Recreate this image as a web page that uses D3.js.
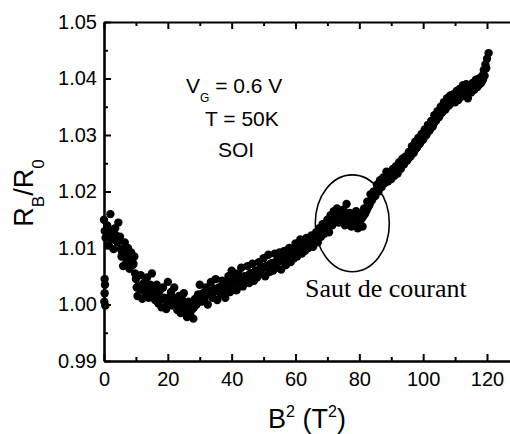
<!DOCTYPE html>
<html>
<head>
<meta charset="utf-8">
<script src="https://cdn.jsdelivr.net/npm/d3@7"></script>
<style>
  html, body { margin: 0; padding: 0; background: #fff; }
  svg { display: block; }
</style>
</head>
<body>
<svg id="chart" width="510" height="434"></svg>
<script>
// ---- data ----
const b2 = [
  0.1, 0.2, 0.3, 0.2, 0.4,
  0, 0.5, 1, 1.5, 2, 2.5, 3, 3.5, 4, 4.5,
  5, 5.5, 6, 6.5, 7, 7.5, 8, 8.5, 9, 9.5,
  10, 10.5, 11, 11.5, 12, 12.5, 13, 13.5, 14, 14.5,
  15, 15.5, 16, 16.5, 17, 17.5, 18, 18.5, 19, 19.5,
  20, 20.5, 21, 21.5, 22, 22.5, 23, 23.5, 24, 24.5,
  25, 25.5, 26, 26.5, 27, 27.5, 28, 28.5, 29, 29.5,
  30, 30.5, 31, 31.5, 32, 32.5, 33, 33.5, 34, 34.5,
  35, 35.5, 36, 36.5, 37, 37.5, 38, 38.5, 39, 39.5,
  40, 40.5, 41, 41.5, 42, 42.5, 43, 43.5, 44, 44.5,
  45, 45.5, 46, 46.5, 47, 47.5, 48, 48.5, 49, 49.5,
  50, 50.5, 51, 51.5, 52, 52.5, 53, 53.5, 54, 54.5,
  55, 55.5, 56, 56.5, 57, 57.5, 58, 58.5, 59, 59.5,
  60, 60.5, 61, 61.5, 62, 62.5, 63, 63.5, 64, 64.5,
  65, 65.5, 66, 66.5, 67, 67.5, 68, 68.5, 69, 69.5,
  70, 70.5, 71, 71.5, 72, 72.5, 73, 73.5, 74, 74.5,
  75, 75.5, 76, 76.5, 77, 77.5, 78, 78.5, 79, 79.5,
  80, 80.5, 81, 81.5, 82, 82.5, 83, 83.5, 84, 84.5,
  85, 85.5, 86, 86.5, 87, 87.5, 88, 88.5, 89, 89.5,
  90, 90.5, 91, 91.5, 92, 92.5, 93, 93.5, 94, 94.5,
  95, 95.5, 96, 96.5, 97, 97.5, 98, 98.5, 99, 99.5,
  100, 100.5, 101, 101.5, 102, 102.5, 103, 103.5, 104, 104.5,
  105, 105.5, 106, 106.5, 107, 107.5, 108, 108.5, 109, 109.5,
  110, 110.5, 111, 111.5, 112, 112.5, 113, 113.5, 114, 114.5,
  115, 115.5, 116, 116.5, 117, 117.5, 118, 118.5, 119, 119.5,
  120, 120.5
];
const ratio = [
  1.0005, 1.0020, 1.0035, 1.0045, 0.9998,
  1.0150, 1.0118, 1.0140, 1.0105, 1.0160, 1.0125, 1.0098, 1.0135, 1.0112, 1.0145,
  1.0120, 1.0085, 1.0068, 1.0110, 1.0075, 1.0100, 1.0063, 1.0092, 1.0070, 1.0085,
  1.0045, 1.0015, 1.0030, 1.0052, 1.0010, 1.0038, 1.0020, 1.0048, 1.0012, 1.0035,
  1.0055, 1.0018, 1.0008, 1.0035, 1.0002, 1.0025, 0.9995, 1.0030, 1.0010, 0.9992,
  1.0040, 1.0008, 1.0022, 0.9998, 1.0030, 1.0005, 0.9990, 1.0015, 0.9985, 1.0008,
  1.0020, 0.9988, 0.9978, 1.0005, 0.9982, 0.9995, 0.9975, 1.0010, 1.0000, 1.0018,
  1.0035, 1.0005, 1.0020, 1.0010, 1.0030, 1.0000, 1.0022, 1.0040, 1.0012, 1.0028,
  1.0045, 1.0008, 1.0030, 1.0018, 1.0042, 1.0025, 1.0012, 1.0038, 1.0050, 1.0022,
  1.0060, 1.0030, 1.0048, 1.0025, 1.0055, 1.0038, 1.0065, 1.0032, 1.0050, 1.0040,
  1.0068, 1.0038, 1.0055, 1.0072, 1.0042, 1.0060, 1.0048, 1.0075, 1.0055, 1.0065,
  1.0082, 1.0050, 1.0068, 1.0088, 1.0058, 1.0072, 1.0060, 1.0090, 1.0065, 1.0080,
  1.0092, 1.0062, 1.0078, 1.0095, 1.0070, 1.0085, 1.0100, 1.0075, 1.0092, 1.0082,
  1.0108, 1.0085, 1.0098, 1.0115, 1.0090, 1.0105, 1.0095, 1.0118, 1.0100, 1.0110,
  1.0122, 1.0102, 1.0115, 1.0128, 1.0110, 1.0135, 1.0120, 1.0142, 1.0125, 1.0138,
  1.0150, 1.0128, 1.0158, 1.0140, 1.0165, 1.0148, 1.0170, 1.0145, 1.0160, 1.0152,
  1.0168, 1.0140, 1.0178, 1.0150, 1.0162, 1.0138, 1.0158, 1.0145, 1.0165, 1.0135,
  1.0145, 1.0160, 1.0138, 1.0170, 1.0165, 1.0182, 1.0175, 1.0195, 1.0185, 1.0200,
  1.0192, 1.0212, 1.0200, 1.0220, 1.0208, 1.0225, 1.0215, 1.0235, 1.0218, 1.0230,
  1.0222, 1.0240, 1.0228, 1.0245, 1.0232, 1.0252, 1.0240, 1.0258, 1.0248, 1.0262,
  1.0255, 1.0270, 1.0262, 1.0280, 1.0268, 1.0288, 1.0278, 1.0295, 1.0285, 1.0302,
  1.0292, 1.0310, 1.0300, 1.0318, 1.0308, 1.0325, 1.0315, 1.0335, 1.0325, 1.0342,
  1.0332, 1.0350, 1.0340, 1.0358, 1.0345, 1.0365, 1.0352, 1.0370, 1.0358, 1.0372,
  1.0358, 1.0378, 1.0362, 1.0382, 1.0368, 1.0388, 1.0372, 1.0390, 1.0365, 1.0385,
  1.0375, 1.0392, 1.0380, 1.0398, 1.0385, 1.0400, 1.0392, 1.0405, 1.0415, 1.0425,
  1.0435, 1.0445
];
// second, interleaved sweep of readings (band centre)
const b2Mid = [
  0.25, 0.75, 1.25, 1.75, 2.25, 2.75, 3.25, 3.75, 4.25, 4.75,
  5.25, 5.75, 6.25, 6.75, 7.25, 7.75, 8.25, 8.75, 9.25, 9.75,
  10.25, 10.75, 11.25, 11.75, 12.25, 12.75, 13.25, 13.75, 14.25, 14.75,
  15.25, 15.75, 16.25, 16.75, 17.25, 17.75, 18.25, 18.75, 19.25, 19.75,
  20.25, 20.75, 21.25, 21.75, 22.25, 22.75, 23.25, 23.75, 24.25, 24.75,
  25.25, 25.75, 26.25, 26.75, 27.25, 27.75, 28.25, 28.75, 29.25, 29.75,
  30.25, 30.75, 31.25, 31.75, 32.25, 32.75, 33.25, 33.75, 34.25, 34.75,
  35.25, 35.75, 36.25, 36.75, 37.25, 37.75, 38.25, 38.75, 39.25, 39.75,
  40.25, 40.75, 41.25, 41.75, 42.25, 42.75, 43.25, 43.75, 44.25, 44.75,
  45.25, 45.75, 46.25, 46.75, 47.25, 47.75, 48.25, 48.75, 49.25, 49.75,
  50.25, 50.75, 51.25, 51.75, 52.25, 52.75, 53.25, 53.75, 54.25, 54.75,
  55.25, 55.75, 56.25, 56.75, 57.25, 57.75, 58.25, 58.75, 59.25, 59.75,
  60.25, 60.75, 61.25, 61.75, 62.25, 62.75, 63.25, 63.75, 64.25, 64.75,
  65.25, 65.75, 66.25, 66.75, 67.25, 67.75, 68.25, 68.75, 69.25, 69.75,
  70.25, 70.75, 71.25, 71.75, 72.25, 72.75, 73.25, 73.75, 74.25, 74.75,
  75.25, 75.75, 76.25, 76.75, 77.25, 77.75, 78.25, 78.75, 79.25, 79.75,
  80.25, 80.75, 81.25, 81.75, 82.25, 82.75, 83.25, 83.75, 84.25, 84.75,
  85.25, 85.75, 86.25, 86.75, 87.25, 87.75, 88.25, 88.75, 89.25, 89.75,
  90.25, 90.75, 91.25, 91.75, 92.25, 92.75, 93.25, 93.75, 94.25, 94.75,
  95.25, 95.75, 96.25, 96.75, 97.25, 97.75, 98.25, 98.75, 99.25, 99.75,
  100.25, 100.75, 101.25, 101.75, 102.25, 102.75, 103.25, 103.75, 104.25, 104.75,
  105.25, 105.75, 106.25, 106.75, 107.25, 107.75, 108.25, 108.75, 109.25, 109.75,
  110.25, 110.75, 111.25, 111.75, 112.25, 112.75, 113.25, 113.75, 114.25, 114.75,
  115.25, 115.75, 116.25, 116.75, 117.25, 117.75, 118.25, 118.75, 119.25, 119.75
];
const ratioMid = [
  1.0130, 1.0128, 1.0122, 1.0132, 1.0118, 1.0125, 1.0115, 1.0122, 1.0110, 1.0115,
  1.0098, 1.0092, 1.0088, 1.0090, 1.0084, 1.0088, 1.0080, 1.0078, 1.0072, 1.0055,
  1.0030, 1.0032, 1.0028, 1.0034, 1.0026, 1.0030, 1.0024, 1.0030, 1.0025, 1.0028,
  1.0030, 1.0025, 1.0020, 1.0018, 1.0015, 1.0012, 1.0010, 1.0012, 1.0008, 1.0005,
  1.0012, 1.0015, 1.0010, 1.0012, 1.0008, 1.0005, 1.0002, 1.0000, 0.9998, 0.9996,
  0.9998, 0.9994, 0.9992, 0.9994, 0.9990, 0.9992, 0.9995, 1.0000, 1.0005, 1.0010,
  1.0015, 1.0018, 1.0014, 1.0020, 1.0018, 1.0022, 1.0020, 1.0025, 1.0022, 1.0026,
  1.0025, 1.0028, 1.0026, 1.0030, 1.0028, 1.0032, 1.0030, 1.0035, 1.0034, 1.0038,
  1.0040, 1.0042, 1.0040, 1.0044, 1.0042, 1.0046, 1.0045, 1.0048, 1.0046, 1.0050,
  1.0052, 1.0054, 1.0055, 1.0056, 1.0058, 1.0058, 1.0060, 1.0062, 1.0062, 1.0064,
  1.0066, 1.0068, 1.0068, 1.0070, 1.0072, 1.0073, 1.0074, 1.0075, 1.0076, 1.0077,
  1.0078, 1.0080, 1.0082, 1.0084, 1.0085, 1.0087, 1.0088, 1.0090, 1.0092, 1.0094,
  1.0096, 1.0098, 1.0100, 1.0101, 1.0102, 1.0104, 1.0105, 1.0106, 1.0108, 1.0110,
  1.0112, 1.0114, 1.0116, 1.0118, 1.0120, 1.0123, 1.0126, 1.0130, 1.0133, 1.0136,
  1.0139, 1.0142, 1.0145, 1.0148, 1.0150, 1.0152, 1.0154, 1.0156, 1.0156, 1.0157,
  1.0157, 1.0158, 1.0158, 1.0157, 1.0156, 1.0155, 1.0154, 1.0152, 1.0150, 1.0149,
  1.0150, 1.0152, 1.0156, 1.0160, 1.0166, 1.0172, 1.0178, 1.0184, 1.0190, 1.0196,
  1.0200, 1.0204, 1.0208, 1.0212, 1.0215, 1.0218, 1.0221, 1.0224, 1.0226, 1.0229,
  1.0231, 1.0234, 1.0236, 1.0239, 1.0241, 1.0244, 1.0246, 1.0249, 1.0252, 1.0255,
  1.0258, 1.0262, 1.0265, 1.0269, 1.0272, 1.0276, 1.0280, 1.0284, 1.0288, 1.0292,
  1.0296, 1.0300, 1.0304, 1.0308, 1.0312, 1.0316, 1.0320, 1.0324, 1.0328, 1.0332,
  1.0336, 1.0340, 1.0343, 1.0346, 1.0349, 1.0352, 1.0354, 1.0357, 1.0360, 1.0362,
  1.0364, 1.0366, 1.0368, 1.0370, 1.0371, 1.0373, 1.0374, 1.0376, 1.0377, 1.0378,
  1.0380, 1.0382, 1.0384, 1.0386, 1.0388, 1.0390, 1.0393, 1.0398, 1.0405, 1.0418
];
const xMajorTicks = [0, 20, 40, 60, 80, 100, 120];
const xMinorTicks = [10, 30, 50, 70, 90, 110];
const yMajorTicks = [0.99, 1.00, 1.01, 1.02, 1.03, 1.04, 1.05];
const yMinorTicks = [0.995, 1.005, 1.015, 1.025, 1.035, 1.045];
const annotLines = ["T = 50K", "SOI"];
const noteText = "Saut de courant";
const ellipseData = { cx: 77.8, cy: 1.01437, rx: 11.6, ry: 0.00857 };

// ---- drawing ----
const svg = d3.select("#chart");
const x = d3.scaleLinear().domain([0, 128]).range([104, 104 + 128 * 383 / 120]);
const y = d3.scaleLinear().domain([0.99, 1.05]).range([361, 22]);
const sans = "'Liberation Sans', Arial, sans-serif";

// dots
const pts = b2.map((v, i) => ({ x: v, y: ratio[i] }))
  .concat(b2Mid.map((v, i) => ({ x: v, y: ratioMid[i] })));
svg.append("g").selectAll("circle").data(pts).join("circle")
  .attr("cx", d => x(d.x)).attr("cy", d => y(d.y)).attr("r", 4.2)
  .attr("fill", "#000");

function styleAxis(g) {
  g.selectAll(".domain").attr("stroke", "#000").attr("stroke-width", 2.6);
  g.selectAll(".tick line").attr("stroke", "#000").attr("stroke-width", 2);
  g.selectAll("text").attr("font-family", sans).attr("font-size", 20).attr("fill", "#000");
}
function minor(g) {
  g.select(".domain").remove();
  g.selectAll("line").attr("stroke", "#000").attr("stroke-width", 2);
}

// bottom axis
const gB = svg.append("g").attr("transform", `translate(0,${y(0.99)})`)
  .call(d3.axisBottom(x).tickValues(xMajorTicks).tickFormat(d3.format("d"))
    .tickSizeInner(-7).tickSizeOuter(0).tickPadding(11));
styleAxis(gB);
svg.append("g").attr("transform", `translate(0,${y(0.99)})`)
  .call(d3.axisBottom(x).tickValues(xMinorTicks).tickFormat("").tickSizeInner(-4).tickSizeOuter(0))
  .call(minor);

// top axis
const gT = svg.append("g").attr("transform", `translate(0,${y(1.05)})`)
  .call(d3.axisTop(x).tickValues(xMajorTicks).tickFormat("").tickSizeInner(-7).tickSizeOuter(0));
styleAxis(gT);
gT.select(".domain").attr("stroke-width", 2);
svg.append("g").attr("transform", `translate(0,${y(1.05)})`)
  .call(d3.axisTop(x).tickValues(xMinorTicks).tickFormat("").tickSizeInner(-4).tickSizeOuter(0))
  .call(minor);

// left axis
const gL = svg.append("g").attr("transform", `translate(${x(0)},0)`)
  .call(d3.axisLeft(y).tickValues(yMajorTicks).tickFormat(d3.format(".2f"))
    .tickSizeInner(-7).tickSizeOuter(0).tickPadding(7));
styleAxis(gL);
svg.append("g").attr("transform", `translate(${x(0)},0)`)
  .call(d3.axisLeft(y).tickValues(yMinorTicks).tickFormat("").tickSizeInner(-4).tickSizeOuter(0))
  .call(minor);

// x axis label: B² (T²)
const xl = svg.append("text").attr("x", 307).attr("y", 428)
  .attr("text-anchor", "middle").attr("font-family", sans).attr("font-size", 27).attr("fill", "#000");
xl.append("tspan").text("B");
xl.append("tspan").attr("font-size", 16).attr("dy", -11).text("2");
xl.append("tspan").attr("dy", 11).text(" (T");
xl.append("tspan").attr("font-size", 16).attr("dy", -11).text("2");
xl.append("tspan").attr("dy", 11).text(")");

// y axis label: R_B/R_0
const yl = svg.append("text").attr("transform", "translate(33,193) rotate(-90)")
  .attr("text-anchor", "middle").attr("font-family", sans).attr("font-size", 27).attr("fill", "#000");
yl.append("tspan").text("R");
yl.append("tspan").attr("font-size", 17).attr("dy", 11).text("B");
yl.append("tspan").attr("dy", -11).text("/R");
yl.append("tspan").attr("font-size", 17).attr("dy", 11).text("0");

// annotations
const a1 = svg.append("text").attr("x", 186).attr("y", 93)
  .attr("font-family", sans).attr("font-size", 21).attr("fill", "#000");
a1.append("tspan").text("V");
a1.append("tspan").attr("font-size", 12).attr("dy", 9).text("G");
a1.append("tspan").attr("dy", -9).text(" = 0.6 V");
svg.append("text").attr("x", 205).attr("y", 126)
  .attr("font-family", sans).attr("font-size", 21).attr("fill", "#000").text(annotLines[0]);
svg.append("text").attr("x", 218).attr("y", 157)
  .attr("font-family", sans).attr("font-size", 21).attr("fill", "#000").text(annotLines[1]);

// ellipse + note
svg.append("ellipse")
  .attr("cx", x(ellipseData.cx)).attr("cy", y(ellipseData.cy))
  .attr("rx", x(ellipseData.rx) - x(0)).attr("ry", y(0.99) - y(0.99 + ellipseData.ry))
  .attr("fill", "none").attr("stroke", "#000").attr("stroke-width", 1.6);
svg.append("text").attr("x", 305).attr("y", 297)
  .attr("font-family", "'Liberation Serif', 'Times New Roman', serif").attr("font-size", 26)
  .attr("fill", "#000").text(noteText);
</script>
</body>
</html>
